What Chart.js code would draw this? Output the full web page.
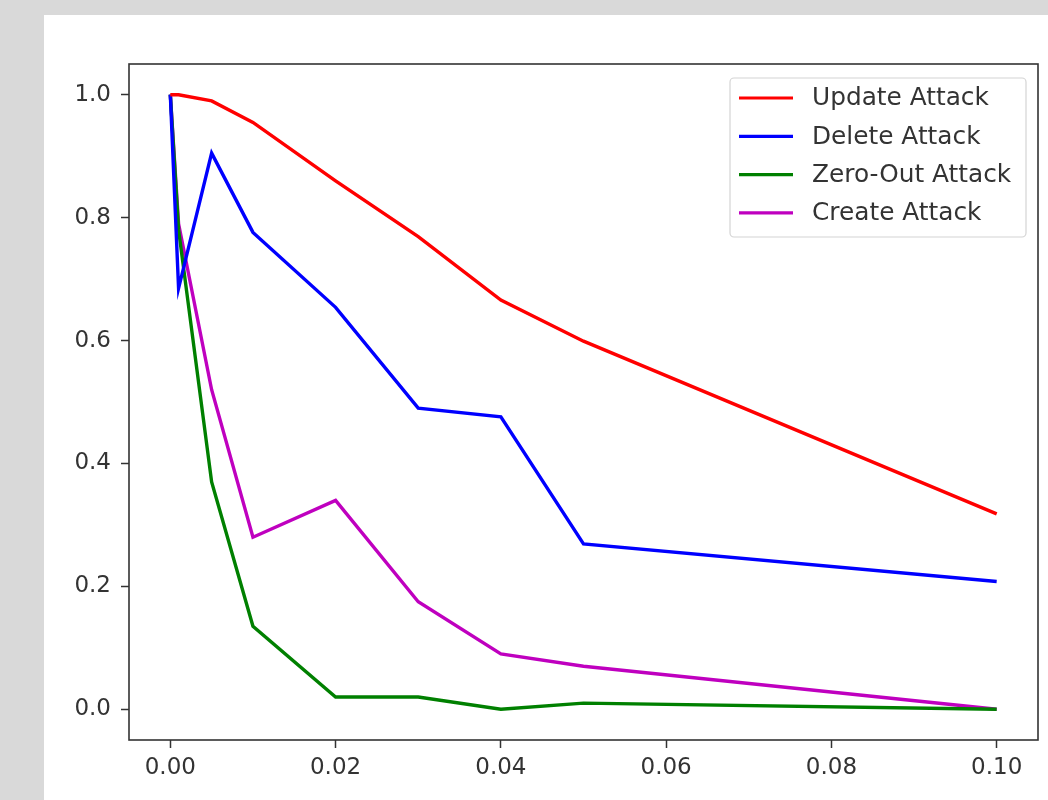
<!DOCTYPE html>
<html>
<head>
<meta charset="utf-8">
<script src="https://cdn.jsdelivr.net/npm/chart.js@4.4.0/dist/chart.umd.min.js"></script>
<style>
  html, body { margin: 0; padding: 0; background: #d9d9d9; }
  #panel { position: absolute; left: 44px; top: 15px; width: 1004px; height: 785px; background: #fff; }
  #wrap { position: absolute; left: 0; top: 0; width: 1048px; height: 800px; }
</style>
</head>
<body>
<div id="panel"></div>
<div id="wrap"><canvas id="myChart" width="1048" height="800"></canvas></div>
<script>
const fractions = [0, 0.001, 0.005, 0.01, 0.02, 0.03, 0.04, 0.05, 0.1]
const updateAttack = [1.0, 1.0, 0.99, 0.955, 0.86, 0.769, 0.666, 0.599, 0.318]
const deleteAttack = [1.0, 0.685, 0.905, 0.776, 0.654, 0.49, 0.476, 0.269, 0.208]
const zeroOutAttack = [1.0, 0.78, 0.37, 0.135, 0.02, 0.02, 0.0, 0.01, 0.0]
const createAttack = [1.0, 0.79, 0.52, 0.28, 0.34, 0.175, 0.09, 0.07, 0.0]
const seriesNames = ['Update Attack', 'Delete Attack', 'Zero-Out Attack', 'Create Attack']
const xTicks = [0, 0.02, 0.04, 0.06, 0.08, 0.10]
const yTicks = [0, 0.2, 0.4, 0.6, 0.8, 1.0]

const colors = ['#ff0000', '#0000ff', '#008000', '#bf00bf']
const allSeries = [updateAttack, deleteAttack, zeroOutAttack, createAttack]
const FONT = 'DejaVu Sans'

// frame + matplotlib style legend inside the plot
const boxAndLegend = {
    id: 'boxAndLegend',
    afterDatasetsDraw(chart) {
        const ctx = chart.ctx
        const a = chart.chartArea
        ctx.save()
        ctx.strokeStyle = '#333333'
        ctx.lineWidth = 1.6
        ctx.strokeRect(a.left, a.top, a.right - a.left, a.bottom - a.top)

        // legend
        const lx = 730, ly = 78, lw = 296, lh = 159
        ctx.fillStyle = 'rgba(255,255,255,0.8)'
        ctx.strokeStyle = '#d4d4d4'
        ctx.lineWidth = 1.2
        ctx.beginPath()
        ctx.roundRect(lx, ly, lw, lh, 4)
        ctx.fill()
        ctx.stroke()
        ctx.font = '24.8px "' + FONT + '"'
        ctx.textBaseline = 'middle'
        seriesNames.forEach((name, i) => {
            const y = 98 + i * 38.3
            ctx.strokeStyle = colors[i]
            ctx.lineWidth = 3.2
            ctx.beginPath()
            ctx.moveTo(739, y)
            ctx.lineTo(793, y)
            ctx.stroke()
            ctx.fillStyle = '#333333'
            ctx.fillText(name, 812, y + 1)
        })
        ctx.restore()
    }
}

const ctx = document.getElementById('myChart').getContext('2d')
const myChart = new Chart(ctx, {
    type: 'line',
    data: {
        datasets: allSeries.map((vals, i) => ({
            label: seriesNames[i],
            data: fractions.map((f, j) => ({ x: f, y: vals[j] })),
            borderColor: colors[i],
            backgroundColor: colors[i],
            borderWidth: 3.4,
            pointRadius: 0,
            tension: 0,
            fill: false
        }))
    },
    options: {
        responsive: false,
        animation: false,
        layout: { padding: { top: 64, right: 10, left: 0, bottom: 0 } },
        plugins: {
            legend: { display: false },
            tooltip: { enabled: false }
        },
        scales: {
            x: {
                type: 'linear',
                min: -0.005,
                max: 0.105,
                afterFit: s => { s.height = 60 },
                afterBuildTicks: s => { s.ticks = xTicks.map(v => ({ value: v })) },
                grid: { drawOnChartArea: false, drawTicks: true, tickLength: 8, tickColor: '#333333', tickWidth: 1.5 },
                border: { display: false },
                ticks: {
                    color: '#333333',
                    font: { family: FONT, size: 23 },
                    padding: 6,
                    maxRotation: 0,
                    callback: v => v.toFixed(2)
                }
            },
            y: {
                min: -0.05,
                max: 1.05,
                afterFit: s => { s.width = 129 },
                afterBuildTicks: s => { s.ticks = yTicks.map(v => ({ value: v })) },
                grid: { drawOnChartArea: false, drawTicks: true, tickLength: 8, tickColor: '#333333', tickWidth: 1.5 },
                border: { display: false },
                ticks: {
                    color: '#333333',
                    font: { family: FONT, size: 23 },
                    padding: 10,
                    callback: v => v.toFixed(1)
                }
            }
        }
    },
    plugins: [boxAndLegend]
})
</script>
</body>
</html>
